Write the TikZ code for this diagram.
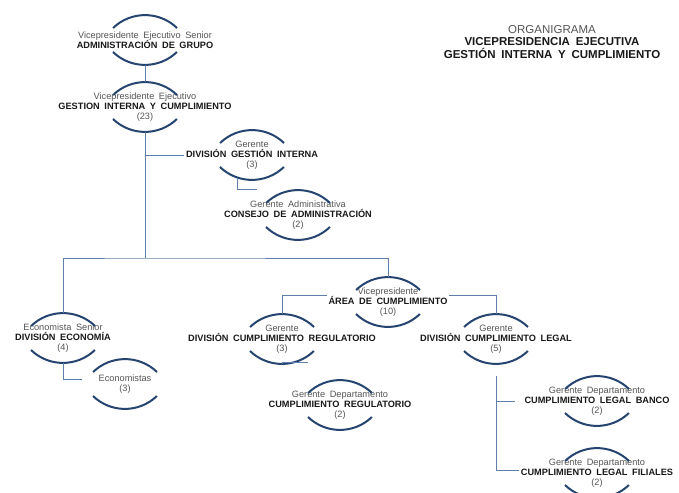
\documentclass[tikz,border=0pt]{standalone}
\usepackage{fontspec}
\setmainfont{Liberation Sans}[WordSpace=1.8]
\definecolor{ovalblue}{RGB}{38,68,112}
\definecolor{linkblue}{RGB}{95,128,170}
\definecolor{txtgray}{RGB}{85,85,85}
\definecolor{txtdark}{RGB}{25,25,25}
\newcommand{\unithead}[1]{{\color{txtdark}\bfseries #1}}

\begin{document}
\begin{tikzpicture}[x=1pt, y=-1pt,
    unit/.style={align=center, minimum height=50pt, inner sep=1.5pt, text=txtgray,
                 font=\fontsize{9.2}{10.2}\selectfont},
    oval/.style={draw=ovalblue, line width=2pt},
    link/.style={draw=linkblue, line width=0.9pt}]
    \useasboundingbox[fill=white] (0,0) rectangle (679,492);
    % Title
    \node[align=center, text=txtgray, font=\fontsize{11.5}{12.5}\selectfont] (title) at (552,42)
        {ORGANIGRAMA\\ \unithead{VICEPRESIDENCIA EJECUTIVA}\\ \unithead{GESTIÓN INTERNA Y CUMPLIMIENTO}};
    % Units
    \node[unit] (adm) at (145,40) {Vicepresidente Ejecutivo Senior\\ \unithead{ADMINISTRACIÓN DE GRUPO}};
    \node[unit] (gic) at (145,107) {Vicepresidente Ejecutivo\\ \unithead{GESTION INTERNA Y CUMPLIMIENTO}\\ (23)};
    \node[unit] (dgi) at (252,155) {Gerente\\ \unithead{DIVISIÓN GESTIÓN INTERNA}\\ (3)};
    \node[unit] (cda) at (298,215) {Gerente Administrativa\\ \unithead{CONSEJO DE ADMINISTRACIÓN}\\ (2)};
    \node[unit] (acm) at (388,302) {Vicepresidente\\ \unithead{ÁREA DE CUMPLIMIENTO}\\ (10)};
    \node[unit] (de)  at (63,338)  {Economista Senior\\ \unithead{DIVISIÓN ECONOMÍA}\\ (4)};
    \node[unit] (eco) at (125,384) {Economistas\\ (3)};
    \node[unit] (dcr) at (282,339) {Gerente\\ \unithead{DIVISIÓN CUMPLIMIENTO REGULATORIO}\\ (3)};
    \node[unit] (cr)  at (340,405) {Gerente Departamento\\ \unithead{CUMPLIMIENTO REGULATORIO}\\ (2)};
    \node[unit] (dcl) at (496,339) {Gerente\\ \unithead{DIVISIÓN CUMPLIMIENTO LEGAL}\\ (5)};
    \node[unit] (clb) at (597,401) {Gerente Departamento\\ \unithead{CUMPLIMIENTO LEGAL BANCO}\\ (2)};
    \node[unit] (clf) at (597,473) {Gerente Departamento\\ \unithead{CUMPLIMIENTO LEGAL FILIALES}\\ (2)};
    % Ovals round each unit
    \foreach \u in {adm,gic,dgi,cda,acm,de,eco,dcr,cr,dcl,clb,clf}
        \draw[oval] (\u.center) ++(32pt,12pt) arc[start angle=46, end angle=134, radius=46pt]
                    (\u.center) ++(-32pt,-12pt) arc[start angle=226, end angle=314, radius=46pt];
    % Connectors
    \coordinate (bus) at (145,258);
    \draw[link] (adm.south) -- (gic.north);
    \draw[link] (gic.south) -- (bus);
    \draw[link] (gic.south |- dgi.west) -- (dgi.west);
    \draw[link] ([xshift=-15pt,yshift=2pt]dgi.south) |- ([xshift=-41pt]cda.north);
    \draw[link] (de.north) |- (bus) -| (acm.north);
    \draw[link] (de.south) |- ([xshift=-15pt,yshift=5pt]eco.west);
    \draw[link] ([yshift=7pt]acm.west) -| (dcr.north);
    \draw[link] ([yshift=7pt]acm.east) -| (dcl.north);
    \draw[link] (dcr.south) |- ([xshift=-32pt,yshift=17pt]cr.north);
    \draw[link] ([yshift=-12pt]dcl.south) |- ([xshift=-8pt]clb.west);
    \draw[link] ([yshift=-12pt]dcl.south) |- ([yshift=3pt]clf.west);
\end{tikzpicture}
\end{document}
